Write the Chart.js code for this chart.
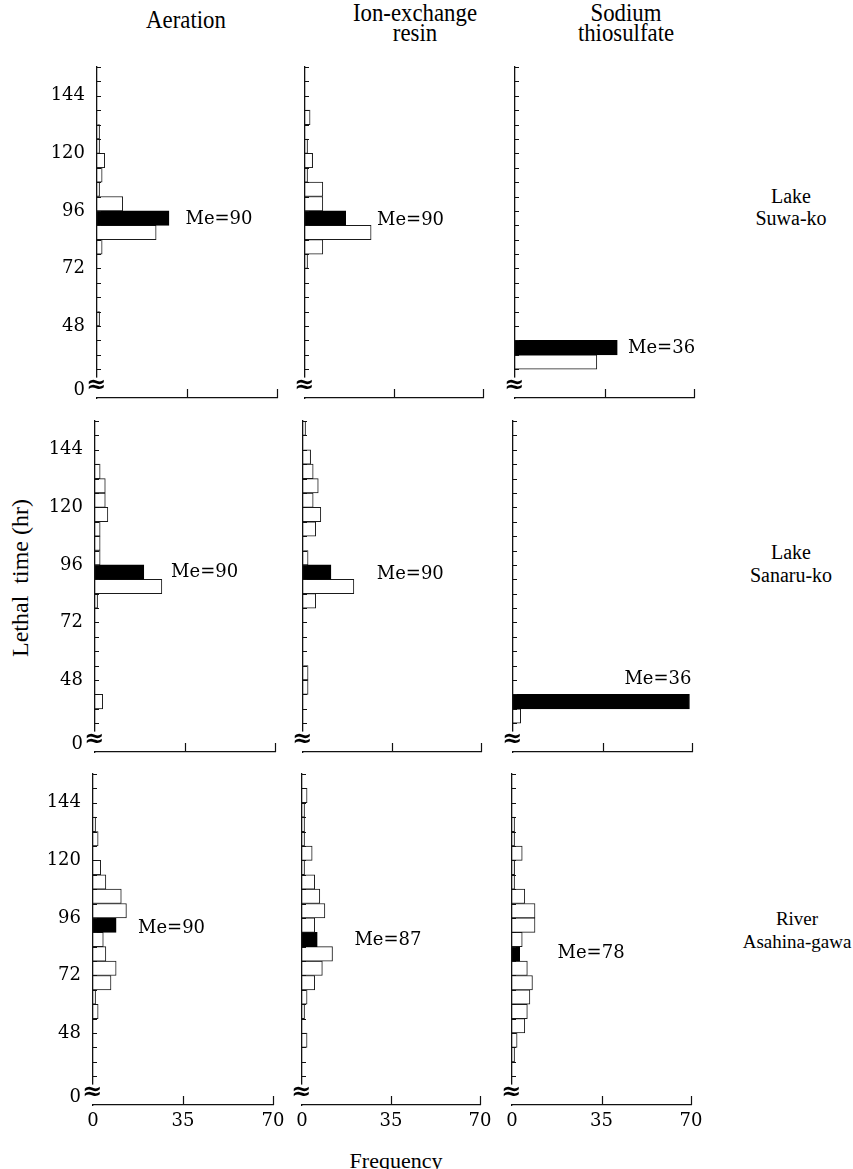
<!DOCTYPE html>
<html>
<head>
<meta charset="utf-8">
<script src="https://cdn.jsdelivr.net/npm/chart.js@4.4.0/dist/chart.umd.min.js"></script>
<style>
  body { margin: 0; background: #fff; width: 853px; height: 1169px; position: relative; overflow: hidden; }
  canvas { position: absolute; }
  .t { position: absolute; font-family: 'Liberation Serif', serif; color: #000; white-space: nowrap;
       line-height: 1; transform: translate(-50%, -50%); }
  .h { font-size: 24px; transform: translate(-50%, -50%) scale(0.95, 1.05); }
</style>
</head>
<body>
<div class="t h" style="left:186px;top:20px">Aeration</div>
<div class="t h" style="left:415px;top:13px">Ion-exchange</div>
<div class="t h" style="left:415px;top:33px">resin</div>
<div class="t h" style="left:626px;top:13px">Sodium</div>
<div class="t h" style="left:626px;top:33px">thiosulfate</div>

<div class="t" style="left:791px;top:196px;font-size:20px">Lake</div>
<div class="t" style="left:791px;top:218px;font-size:20px">Suwa-ko</div>
<div class="t" style="left:791px;top:552px;font-size:20px">Lake</div>
<div class="t" style="left:791px;top:575px;font-size:20px">Sanaru-ko</div>
<div class="t" style="left:797px;top:918px;font-size:19px">River</div>
<div class="t" style="left:797px;top:941px;font-size:19px">Asahina-gawa</div>

<div class="t" style="left:20px;top:578px;font-size:24px;transform:translate(-50%,-50%) rotate(-90deg)">Lethal&nbsp; time (hr)</div>
<div class="t" style="left:396px;top:1161px;font-size:22px">Frequency</div>

<script>
// bins are 6 hours wide, given by their start hour
var binStarts = [24, 30, 36, 42, 48, 54, 60, 66, 72, 78, 84, 90, 96, 102, 108, 114, 120, 126, 132, 138, 144, 150];

var suwaAeration   = [0, 0, 0, 0, 1, 0, 0, 0, 0, 2, 23, 28, 10, 1, 2, 3, 1, 1, 0, 0, 0, 0];
var suwaIon        = [0, 0, 0, 0, 0, 0, 0, 0, 1, 7, 26, 16, 7, 7, 1, 3, 1, 0, 2, 0, 0, 0];
var suwaThio       = [0, 32, 40, 0, 0, 0, 0, 0, 0, 0, 0, 0, 0, 0, 0, 0, 0, 0, 0, 0, 0, 0];
var sanaruAeration = [0, 0, 3, 0, 0, 0, 0, 0, 0, 1, 26, 19, 2, 2, 2, 5, 4, 4, 2, 0, 0, 0];
var sanaruIon      = [0, 0, 0, 2, 2, 0, 0, 0, 0, 5, 20, 11, 2, 0, 5, 7, 4, 6, 4, 3, 0, 1];
var sanaruThio     = [0, 3, 69, 0, 0, 0, 0, 0, 0, 0, 0, 0, 0, 0, 0, 0, 0, 0, 0, 0, 0, 0];
var asahinaAeration = [0, 0, 0, 0, 0, 2, 1, 7, 9, 5, 4, 9, 13, 11, 5, 3, 0, 2, 1, 0, 0, 0];
var asahinaIon      = [0, 0, 0, 2, 0, 1, 2, 5, 8, 12, 6, 5, 9, 7, 5, 1, 4, 1, 1, 1, 2, 0];
var asahinaThio     = [0, 0, 1, 2, 5, 6, 7, 8, 6, 3, 4, 9, 9, 5, 1, 1, 4, 1, 1, 0, 0, 0];

var panelData = [
  [suwaAeration, suwaIon, suwaThio],
  [sanaruAeration, sanaruIon, sanaruThio],
  [asahinaAeration, asahinaIon, asahinaThio]
];
// bin holding the median (drawn black) and the printed median
var medianBin = [[90, 90, 36], [90, 90, 36], [90, 84, 78]];
var medianValue = [[90, 90, 36], [90, 90, 36], [90, 87, 78]];

var xTicks = [0, 35, 70];
var yTickLabels = [48, 72, 96, 120, 144];
var yMinorTicks = [30, 36, 42, 48, 54, 60, 66, 72, 78, 84, 90, 96, 102, 108, 114, 120, 126, 132, 138, 144, 150, 156];

// layout (pixels)
var colLeft = [96.5, 305, 515];
var colWidth = [180, 178, 179];
var rowBottom = [398, 752, 1105];
var rowSkew = 1.7;
var plotH = 331;
var padT = 26, padB = 26, padR = 20;

// where the "Me=" text sits, in data units (frequency, hours)
var meLabelPos = [
  [[34.4, 92.6, 'left'], [28.3, 92.2, 'left'], [44.2, 38.8, 'left']],
  [[29.6, 93.0, 'left'], [29.0, 92.2, 'left'], [69.8, 48.4, 'right']],
  [[17.5, 91.8, 'left'], [20.6, 86.8, 'left'], [17.8, 81.3, 'left']]
];

var numFont = 'DejaVu Serif';

var axisMarks = {
  id: 'axisMarks',
  afterDraw: function(chart, args, opts) {
    var ctx = chart.ctx, a = chart.chartArea;
    var xs = chart.scales.x, ys = chart.scales.y;
    ctx.save();
    // axis break
    var yb = ys.getPixelForValue(26.5);
    ctx.fillStyle = '#fff';
    ctx.fillRect(a.left - 8, yb, 12, a.bottom - 1 - yb);
    ctx.fillStyle = '#000';
    ctx.font = 'bold 24px ' + numFont;
    ctx.textAlign = 'center';
    ctx.textBaseline = 'middle';
    ctx.fillText('\u2248', a.left - 1, a.bottom - 12);

    // inward tick marks
    ctx.strokeStyle = '#111';
    ctx.lineWidth = 1.2;
    ctx.beginPath();
    yMinorTicks.forEach(function(h) {
      var y = Math.round(ys.getPixelForValue(h)) + 0.5;
      ctx.moveTo(a.left, y);
      ctx.lineTo(a.left + 4, y);
    });
    xTicks.slice(1).forEach(function(v) {
      var x = Math.round(xs.getPixelForValue(v)) + 0.5;
      ctx.moveTo(x, a.bottom);
      ctx.lineTo(x, a.bottom - 9);
    });
    ctx.stroke();

    // median label
    ctx.font = '18px ' + numFont;
    ctx.textAlign = opts.align;
    ctx.fillText(opts.text, xs.getPixelForValue(opts.f), ys.getPixelForValue(opts.h));
    ctx.restore();
  }
};

for (var r = 0; r < 3; r++) {
  for (var c = 0; c < 3; c++) {
    makePanel(r, c);
  }
}

function makePanel(r, c) {
  var vals = panelData[r][c];
  var med = medianBin[r][c];
  var yAxisW = c === 0 ? 56 : 20;
  var xAxisH = r === 2 ? 34 : 0;
  var areaLeft = Math.round(colLeft[c] - rowSkew * r);
  var areaTop = rowBottom[r] - plotH;

  var cv = document.createElement('canvas');
  var w = yAxisW + colWidth[c] + padR;
  var h = padT + plotH + xAxisH + padB;
  cv.width = w; cv.height = h;
  cv.style.width = w + 'px'; cv.style.height = h + 'px';
  cv.style.left = (areaLeft - yAxisW) + 'px';
  cv.style.top = (areaTop - padT) + 'px';
  document.body.appendChild(cv);

  var points = binStarts.map(function(b, i) { return { x: vals[i], y: b + 3 }; });
  var colors = binStarts.map(function(b) { return b === med ? '#000' : '#fff'; });
  var edges = binStarts.map(function(b) { return b === med ? '#000' : '#1a1a1a'; });
  var widths = vals.map(function(v) { return v > 0 ? 1 : 0; });
  var pos = meLabelPos[r][c];

  new Chart(cv, {
    type: 'bar',
    data: {
      datasets: [{
        data: points,
        backgroundColor: colors,
        borderColor: edges,
        borderWidth: widths,
        borderSkipped: 'start',
        barPercentage: 1,
        categoryPercentage: 1
      }]
    },
    options: {
      indexAxis: 'y',
      responsive: false,
      animation: false,
      devicePixelRatio: 1,
      events: [],
      layout: { padding: { left: 0, right: padR, top: padT, bottom: padB } },
      plugins: {
        legend: { display: false },
        tooltip: { enabled: false },
        axisMarks: { text: 'Me=' + medianValue[r][c], f: pos[0], h: pos[1], align: pos[2] }
      },
      scales: {
        x: {
          type: 'linear', position: 'bottom', min: 0, max: 70, offset: false,
          afterBuildTicks: function(s) { s.ticks = xTicks.map(function(v) { return { value: v }; }); },
          afterFit: function(s) { s.height = xAxisH; },
          grid: { display: false, drawTicks: false },
          border: { display: true, color: '#111', width: 1.3, z: 1 },
          ticks: { display: r === 2, autoSkip: false, maxRotation: 0, padding: 6, color: '#000',
                   font: { family: numFont, size: 18 } }
        },
        y: {
          type: 'linear', position: 'left', min: 18, max: 156, offset: false,
          afterBuildTicks: function(s) {
            s.ticks = [21].concat(yTickLabels).map(function(v) { return { value: v }; });
          },
          afterFit: function(s) { s.width = yAxisW; },
          grid: { display: false, drawTicks: false },
          border: { display: true, color: '#111', width: 1.3, z: 1 },
          ticks: { display: c === 0, padding: 12, color: '#000', font: { family: numFont, size: 18 },
                   callback: function(v) { return v === 21 ? '0' : String(v); } }
        }
      }
    },
    plugins: [axisMarks]
  });
}
</script>
</body>
</html>
